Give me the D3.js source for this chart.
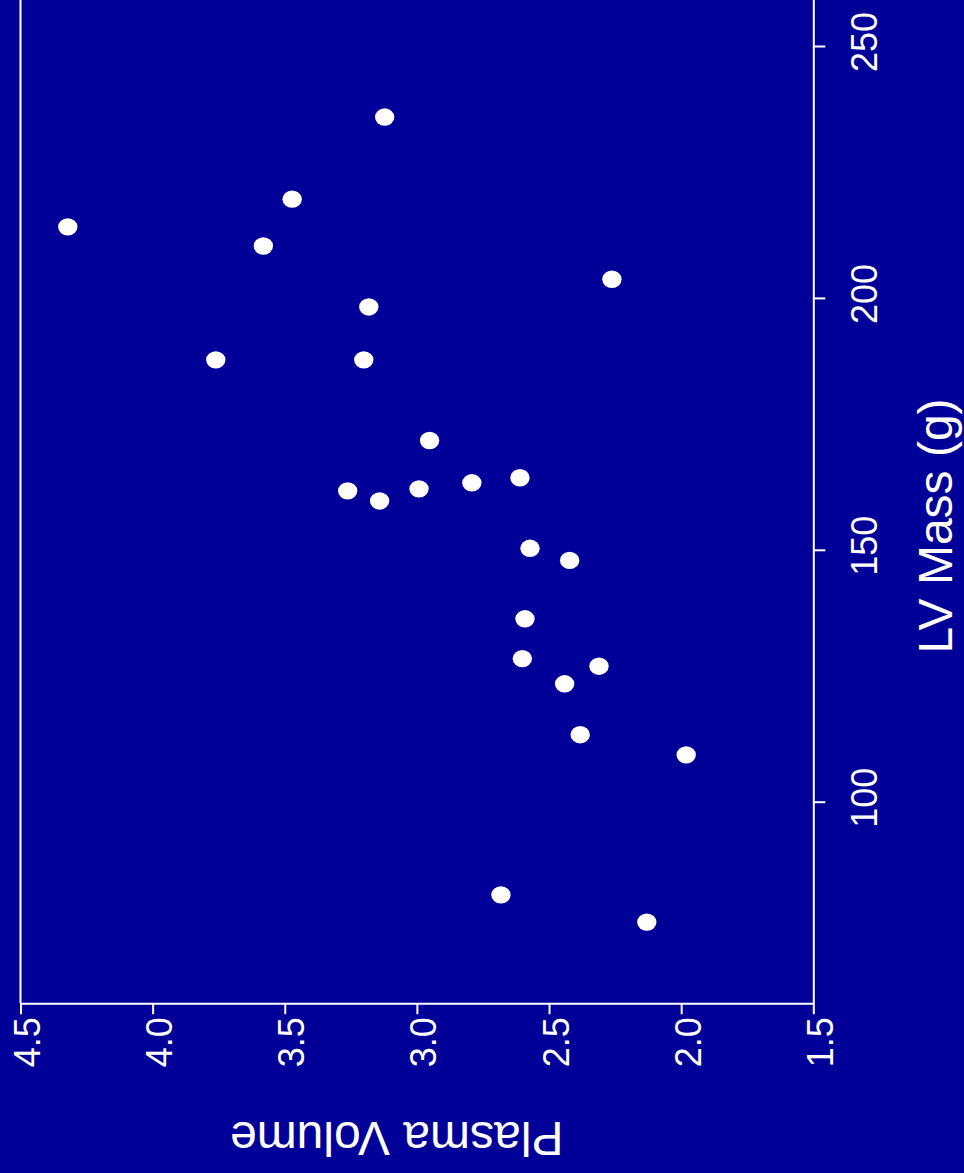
<!DOCTYPE html>
<html>
<head>
<meta charset="utf-8">
<script src="https://cdn.jsdelivr.net/npm/d3@7"></script>
<style>
  html, body { margin: 0; padding: 0; background: #000099; }
  svg { display: block; }
  text { font-family: "Liberation Sans", Arial, Helvetica, sans-serif; fill: #ffffff; }
</style>
</head>
<body>
<svg id="chart" width="964" height="1173"></svg>
<script>
// Data: plasma volume vs LV mass (g)
const plasmaVolume = [3.122, 3.472, 4.321, 3.581, 2.262, 3.182, 3.761, 3.201,
                      2.952, 2.610, 2.792, 3.262, 2.992, 3.141, 2.572, 2.422,
                      2.591, 2.601, 2.311, 2.441, 2.382, 1.981, 2.682, 2.130];
const lvMass = [235.9, 219.6, 214.1, 210.3, 203.7, 198.2, 187.7, 187.7,
                171.7, 164.3, 163.3, 161.7, 162.1, 159.7, 150.3, 147.9,
                136.3, 128.4, 126.9, 123.4, 113.3, 109.3, 81.5, 76.1];
const pvTicks = [4.5, 4.0, 3.5, 3.0, 2.5, 2.0, 1.5];
const lvTicks = [100, 150, 200, 250];
const xLabel = "LV Mass (g)";
const yLabel = "Plasma Volume";

const svg = d3.select("#chart");
svg.append("rect").attr("width", 964).attr("height", 1173).attr("fill", "#000099");

// Chart is rotated: plasma volume runs horizontally (decreasing to the right),
// LV mass runs vertically (increasing upward).
const pv = d3.scaleLinear().domain([4.5, 1.5]).range([20.5, 813.3]);
const lv = d3.scaleLinear().domain([100, 250]).range([801.7, 46]);
const lvMin = 60, lvMax = 262;

// left frame line
svg.append("line")
  .attr("x1", pv(4.5)).attr("x2", pv(4.5))
  .attr("y1", lv(lvMax)).attr("y2", lv(lvMin))
  .attr("stroke", "#fff").attr("stroke-width", 2);

// Right axis (LV mass)
const lvAxisScale = lv.copy().domain([lvMin, lvMax]).range([lv(lvMin), lv(lvMax)]);
const gR = svg.append("g")
  .attr("transform", `translate(${pv(1.5)},0)`)
  .call(d3.axisRight(lvAxisScale).tickValues(lvTicks).tickSize(12).tickSizeOuter(0).tickFormat(d3.format("d")));
gR.select(".domain").attr("stroke", "#fff").attr("stroke-width", 2);
gR.selectAll(".tick line").attr("stroke", "#fff").attr("stroke-width", 2);
gR.selectAll(".tick text")
  .attr("x", null).attr("y", null).attr("dy", null)
  .attr("text-anchor", "middle")
  .attr("transform", "translate(64,-4.5) rotate(-90)")
  .style("font-size", "36px")
  .attr("fill", "#fff");

// Bottom axis (plasma volume)
const gB = svg.append("g")
  .attr("transform", `translate(0,${lv(lvMin)})`)
  .call(d3.axisBottom(pv).tickValues(pvTicks).tickSize(11).tickSizeOuter(0).tickFormat(d3.format(".1f")));
gB.select(".domain").attr("stroke", "#fff").attr("stroke-width", 2);
gB.selectAll(".tick line").attr("stroke", "#fff").attr("stroke-width", 2);
gB.selectAll(".tick text")
  .attr("x", null).attr("y", null).attr("dy", null)
  .attr("text-anchor", "end")
  .attr("transform", "translate(19,14) rotate(-90)")
  .style("font-size", "36px")
  .attr("fill", "#fff");

// Axis titles
svg.append("text")
  .attr("text-anchor", "middle")
  .attr("transform", "translate(951.5,526) rotate(-90)")
  .style("font-size", "48px")
  .text(xLabel);

svg.append("text")
  .attr("text-anchor", "middle")
  .attr("transform", "translate(396.7,1121.7) rotate(180)")
  .style("font-size", "48px")
  .text(yLabel);

// Points
const pts = plasmaVolume.map((v, i) => ({ pv: v, lv: lvMass[i] }));
svg.append("g").selectAll("ellipse")
  .data(pts)
  .join("ellipse")
  .attr("cx", d => pv(d.pv))
  .attr("cy", d => lv(d.lv))
  .attr("rx", 9.7)
  .attr("ry", 8.7)
  .attr("fill", "#fff");
</script>
</body>
</html>
